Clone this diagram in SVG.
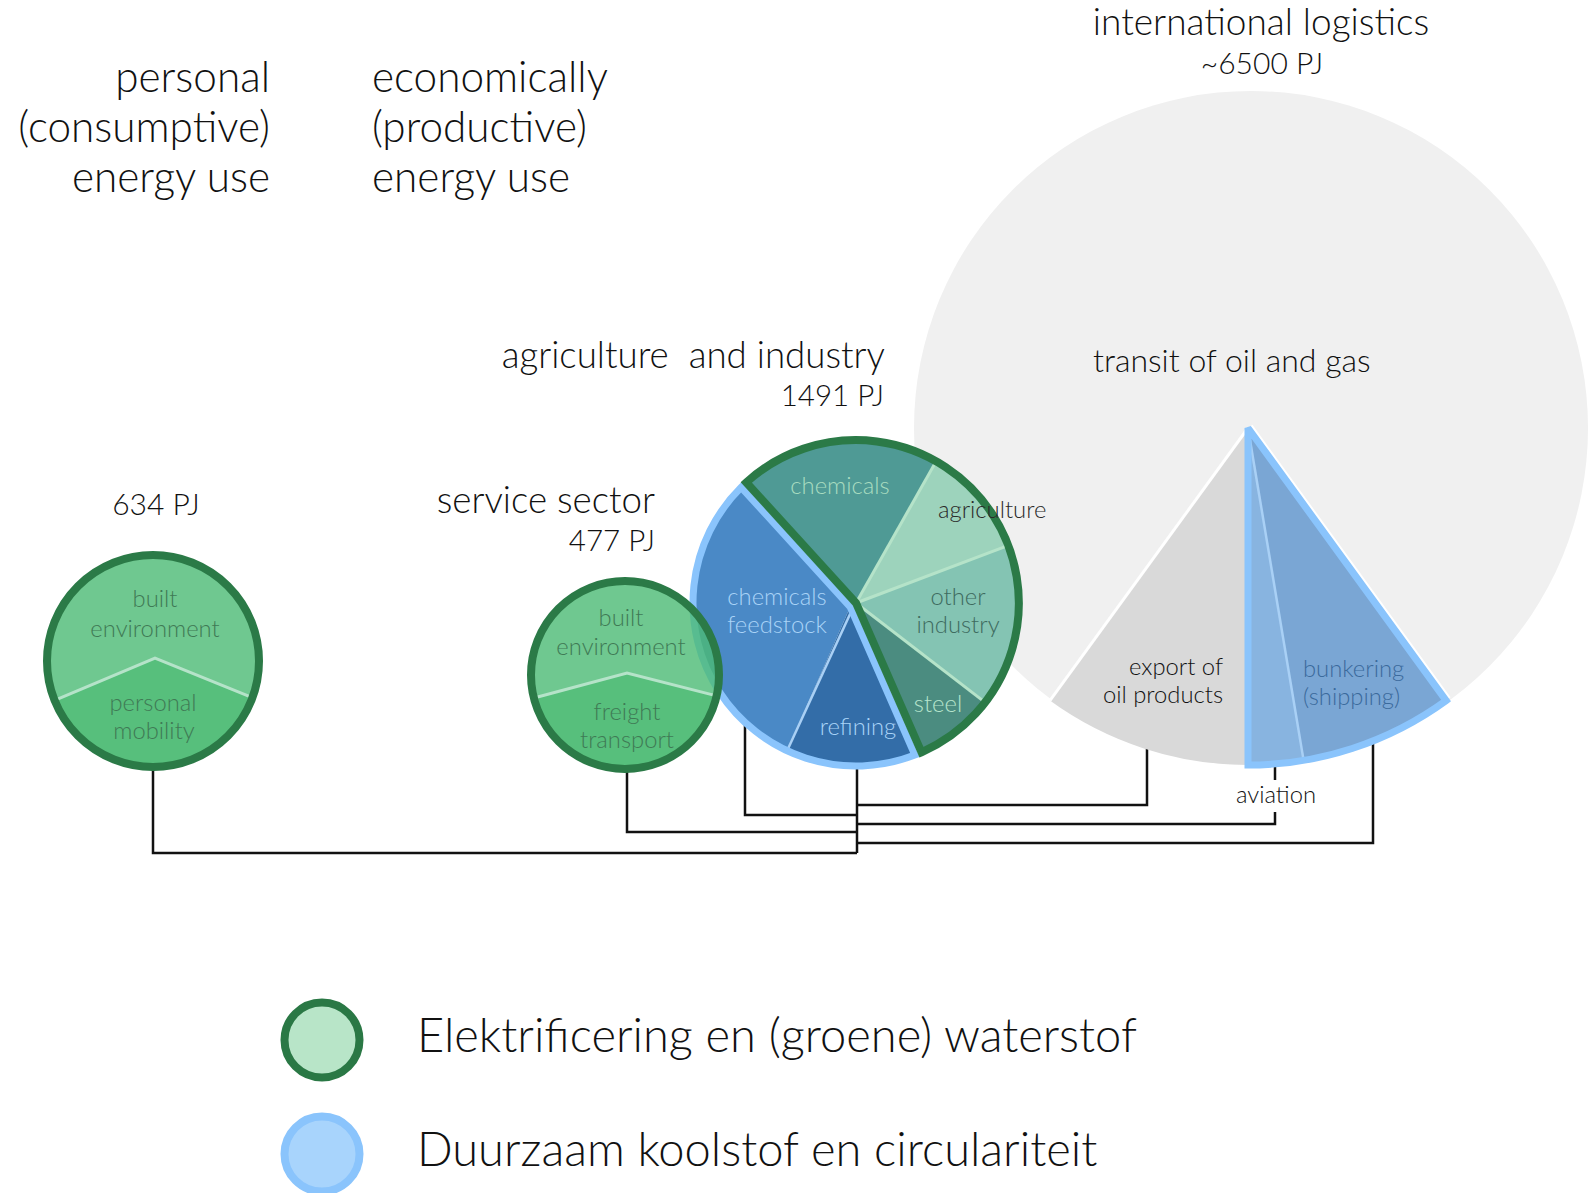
<svg xmlns="http://www.w3.org/2000/svg" width="1592" height="1193" viewBox="0 0 1592 1193">
<style>
text{font-family:Lato,"Open Sans","Liberation Sans",sans-serif;font-weight:300}
.hd{font-size:42.3px;fill:#111}
.tt{font-size:36.7px;fill:#111}
.pj{font-size:29.5px;fill:#111}
.lb{font-size:23.8px}
.lg{font-size:47px;fill:#111}
.gdark{fill:#3f7a55}
.con{fill:none;stroke:#111;stroke-width:2.5}
.sepg{stroke:#b5e3c9;stroke-width:3;fill:none}
.sepb{stroke:#a9d0f5;stroke-width:2.5;fill:none}
.ring-g{fill:none;stroke:#2b7a47;stroke-width:8}
.ring-b{fill:none;stroke:#8ac4fc;stroke-width:7;stroke-linejoin:miter;stroke-miterlimit:3}
</style>
<rect width="1592" height="1193" fill="#fff"/>

<g id="headers">
<text class="hd" x="270" y="92" text-anchor="end">personal</text>
<text class="hd" x="270" y="142" text-anchor="end">(consumptive)</text>
<text class="hd" x="270" y="192" text-anchor="end">energy use</text>
<text class="hd" x="372" y="92">economically</text>
<text class="hd" x="372" y="142">(productive)</text>
<text class="hd" x="372" y="192">energy use</text>
</g>

<g id="connectors">
<path class="con" d="M153,765 V853 H857"/>
<path class="con" d="M627,765 V832 H857"/>
<path class="con" d="M745,722 V815 H857"/>
<path class="con" d="M857,760 V853"/>
<path class="con" d="M857,805 H1147 V745"/>
<path class="con" d="M857,824 H1275 V812"/>
<path class="con" d="M1275,760 V780"/>
<path class="con" d="M857,843 H1373 V738"/>
</g>

<g id="international-logistics">
<circle cx="1251" cy="428" r="337" fill="#f0f0f0"/>
<path d="M1248,428 L1049.9,700.6 A337,337 0 0 0 1248,765 Z" fill="#d9d9d9"/>
<line x1="1248" y1="428" x2="1049.9" y2="700.6" stroke="#fff" stroke-width="3"/>
<line x1="1248" y1="428" x2="1446.1" y2="700.6" stroke="#fff" stroke-width="11"/>
<path d="M1248,428 L1248,765 A337,337 0 0 0 1303.6,760.4 Z" fill="#88b4e0"/>
<path d="M1248,428 L1303.6,760.4 A337,337 0 0 0 1446.1,700.6 Z" fill="#7aa6d4"/>
<line class="sepb" x1="1250" y1="440" x2="1303.6" y2="760.4"/>
<path class="ring-b" d="M1248,428 L1248,765 A337,337 0 0 0 1446.1,700.6 Z"/>
<text x="1261" y="35" text-anchor="middle" style="font-size:37px;fill:#111">international logistics</text>
<text x="1262" y="74" text-anchor="middle" style="font-size:30px;fill:#111">~6500 PJ</text>
<text x="1093" y="372" style="font-size:32px;fill:#111">transit of oil and gas</text>
<text class="lb" x="1223" y="675" text-anchor="end" fill="#111">export of</text>
<text class="lb" x="1223" y="703" text-anchor="end" fill="#111">oil products</text>
<text class="lb" x="1303" y="677" fill="#3b6a9c">bunkering</text>
<text class="lb" x="1303" y="705" fill="#3b6a9c">(shipping)</text>
<text class="lb" x="1276" y="803" text-anchor="middle" fill="#111">aviation</text>
</g>

<g id="agriculture-industry">
<path d="M850.1,606.9 L787.1,750.7 A163,163 0 0 1 741.2,487.3 Z" fill="#4a89c6"/>
<path d="M850.1,606.9 L914.9,755 A163,163 0 0 1 787.1,750.7 Z" fill="#336da8"/>
<line class="sepb" x1="851" y1="612" x2="787.1" y2="750.7"/>
<path class="ring-b" d="M850.1,606.9 L914.9,755 A163,163 0 0 1 741.2,487.3 Z"/>
<path d="M856,603 L746.3,482.4 A163,163 0 0 1 936.3,461.1 Z" fill="#4f9a95"/>
<path d="M856,603 L936.3,461.1 A163,163 0 0 1 1008.5,545.4 Z" fill="#9dd3bc"/>
<path d="M856,603 L1008.5,545.4 A163,163 0 0 1 985.1,702.4 Z" fill="#84c4b3"/>
<path d="M856,603 L985.1,702.4 A163,163 0 0 1 921.5,752.3 Z" fill="#4b8c80"/>
<line class="sepg" x1="856" y1="603" x2="936.3" y2="461.1"/>
<line class="sepg" x1="856" y1="603" x2="1008.5" y2="545.4"/>
<line class="sepg" x1="856" y1="603" x2="985.1" y2="702.4"/>
<path class="ring-g" d="M856,603 L746.3,482.4 A163,163 0 1 1 921.5,752.3 Z"/>
<text class="lb" x="840" y="494" text-anchor="middle" fill="#a8dcc0">chemicals</text>
<text class="lb" x="938" y="518" fill="#2a2a2a">agriculture</text>
<text class="lb" x="958" y="605" text-anchor="middle" fill="#3e6b5f">other</text>
<text class="lb" x="958" y="633" text-anchor="middle" fill="#3e6b5f">industry</text>
<text class="lb" x="938" y="712" text-anchor="middle" fill="#b6e4cc">steel</text>
<text class="lb" x="777" y="605" text-anchor="middle" fill="#a9d3f7">chemicals</text>
<text class="lb" x="777" y="633" text-anchor="middle" fill="#a9d3f7">feedstock</text>
<text class="lb" x="858" y="735" text-anchor="middle" fill="#a9d3f7">refining</text>
<text class="tt" x="885" y="368" text-anchor="end" xml:space="preserve">agriculture  and industry</text>
<text class="pj" x="884" y="406" text-anchor="end">1491 PJ</text>
</g>

<g id="service-sector">
<path d="M533.9,698 L627,673 L716.7,695.9 A94,94 0 1 0 533.9,698 Z" fill="#4bba74" fill-opacity="0.8"/>
<path d="M533.9,698 L627,673 L716.7,695.9 A94,94 0 0 1 533.9,698 Z" fill="#2daf5b" fill-opacity="0.8"/>
<polyline class="sepg" points="533.9,698 627,673 716.7,695.9"/>
<circle class="ring-g" cx="625" cy="675" r="94"/>
<text class="lb gdark" x="621" y="626" text-anchor="middle">built</text>
<text class="lb gdark" x="621" y="655" text-anchor="middle">environment</text>
<text class="lb gdark" x="627" y="720" text-anchor="middle">freight</text>
<text class="lb gdark" x="627" y="748" text-anchor="middle">transport</text>
<text class="tt" x="655" y="513" text-anchor="end">service sector</text>
<text class="pj" x="655" y="551" text-anchor="end">477 PJ</text>
</g>

<g id="personal">
<circle cx="153" cy="661" r="106" fill="#6fc890"/>
<path d="M54.6,700.3 L155,658 L252.4,697.7 A106,106 0 0 1 54.6,700.3 Z" fill="#57bf7c"/>
<polyline class="sepg" points="54.6,700.3 155,658 252.4,697.7"/>
<circle class="ring-g" cx="153" cy="661" r="106"/>
<text class="lb gdark" x="155" y="607" text-anchor="middle">built</text>
<text class="lb gdark" x="155" y="637" text-anchor="middle">environment</text>
<text class="lb gdark" x="153" y="711" text-anchor="middle">personal</text>
<text class="lb gdark" x="154" y="739" text-anchor="middle">mobility</text>
<text x="156" y="515" text-anchor="middle" style="font-size:30px;fill:#111">634 PJ</text>
</g>

<g id="legend">
<circle cx="322" cy="1040" r="37.5" fill="#b8e5c8" stroke="#2a7845" stroke-width="8"/>
<text class="lg" x="417" y="1052">Elektrificering en (groene) waterstof</text>
<circle cx="322" cy="1154" r="37.5" fill="#a8d4fc" stroke="#8ac4fc" stroke-width="8"/>
<text class="lg" x="417" y="1166">Duurzaam koolstof en circulariteit</text>
</g>
</svg>
